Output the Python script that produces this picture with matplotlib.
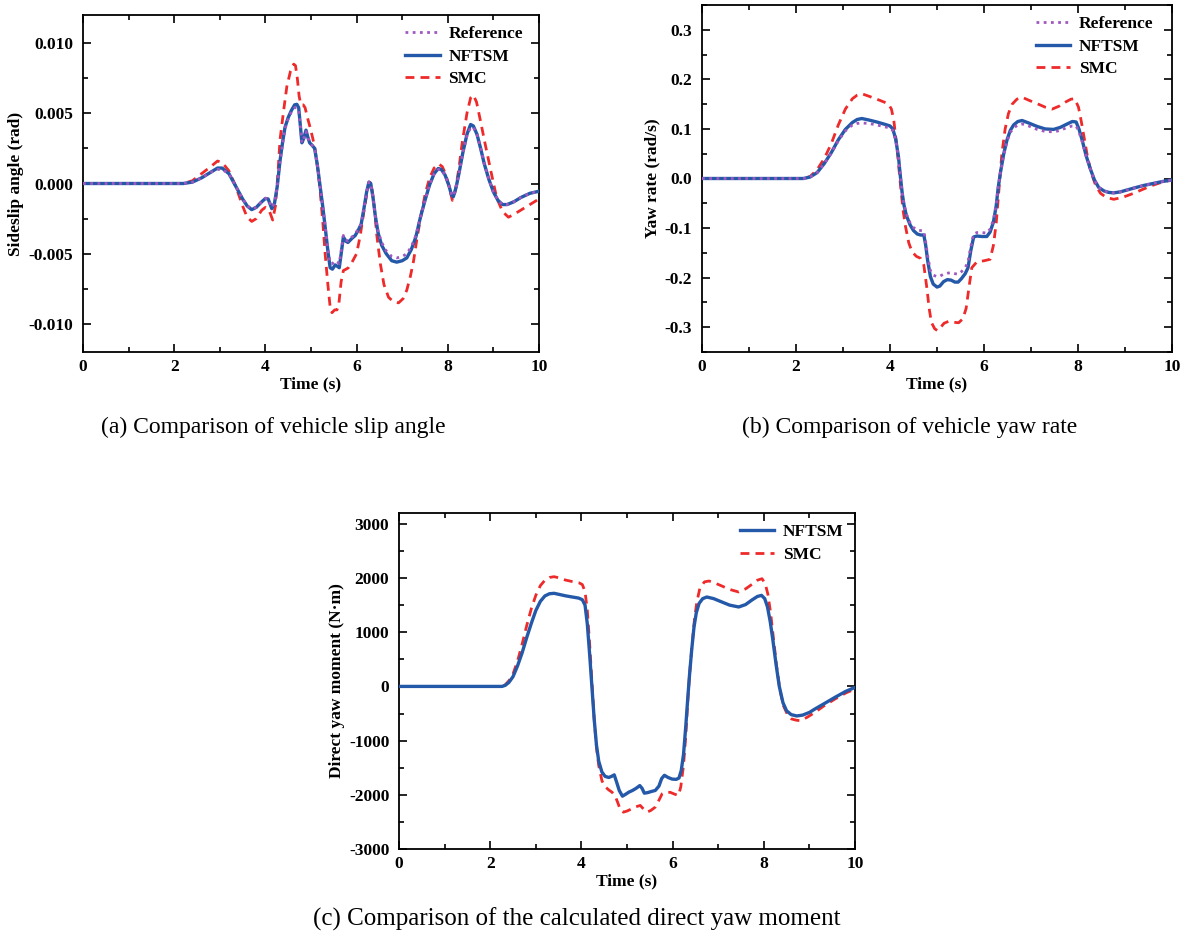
import matplotlib
matplotlib.use("Agg")
import matplotlib.pyplot as plt
from matplotlib.ticker import MultipleLocator, FormatStrFormatter

plt.rcParams['font.family'] = ['Liberation Serif', 'DejaVu Serif']
plt.rcParams['font.weight'] = 'bold'

# ---- (a) sideslip angle (rad) ----
t_a = [0, 1, 2, 2.2, 2.4, 2.6, 2.8, 2.95, 3.05, 3.2, 3.35, 3.5, 3.6, 3.7, 3.8, 3.92, 4.0, 4.06,
       4.14, 4.2, 4.26, 4.32, 4.38, 4.43, 4.5, 4.57, 4.64, 4.69, 4.73, 4.77, 4.8, 4.84, 4.89,
       4.93, 4.97, 5.03, 5.08, 5.14, 5.2, 5.26, 5.31, 5.37, 5.42, 5.47, 5.53, 5.58, 5.62, 5.67,
       5.71, 5.76, 5.81, 5.9, 5.97, 6.04, 6.1, 6.16, 6.22, 6.27, 6.31, 6.36, 6.41, 6.47, 6.55,
       6.65, 6.77, 6.88, 7.0, 7.1, 7.2, 7.3, 7.4, 7.5, 7.6, 7.7, 7.79, 7.86, 7.94, 8.02, 8.08,
       8.12, 8.18, 8.25, 8.33, 8.42, 8.5, 8.56, 8.64, 8.72, 8.8, 8.9, 9.0, 9.1, 9.2, 9.3, 9.45,
       9.6, 9.8, 10]
v_a_nftsm = [0, 0, 0, 0, 0.0001, 0.0004, 0.0008, 0.0011, 0.0011, 0.0007, -0.0002, -0.0011, -0.0016,
             -0.00186, -0.0017, -0.0013, -0.00107, -0.0011, -0.00179, -0.0014, -0.0002, 0.0016,
             0.0030, 0.0040, 0.0047, 0.0052, 0.0056, 0.00564, 0.0054, 0.0040, 0.0029, 0.0032,
             0.0038, 0.0033, 0.0029, 0.0027, 0.0025, 0.0013, -0.0002, -0.0017, -0.0031, -0.0048,
             -0.0060, -0.0061, -0.0058, -0.0059, -0.0060, -0.0048, -0.0038, -0.0041, -0.0042,
             -0.0039, -0.0037, -0.0033, -0.0029, -0.0018, -0.0006, 0.0001, 0.0000, -0.0010,
             -0.0023, -0.0035, -0.0044, -0.0050, -0.0055, -0.0056, -0.0055, -0.0053, -0.0047,
             -0.0038, -0.0024, -0.0012, -0.0001, 0.0007, 0.00107, 0.0010, 0.0006, -0.0001,
             -0.0008, -0.00095, -0.0003, 0.0008, 0.0022, 0.0035, 0.0042, 0.0041, 0.0035, 0.0025,
             0.0014, 0.0003, -0.0006, -0.0012, -0.0015, -0.0015, -0.0013, -0.0010, -0.0007,
             -0.00055]
v_a_ref = [0, 0, 0, 0, 0.0001, 0.0004, 0.0008, 0.0010, 0.0010, 0.0007, -0.0002, -0.0011, -0.0016,
           -0.0018, -0.0017, -0.0013, -0.00105, -0.0011, -0.0017, -0.0014, -0.0002, 0.0016,
           0.0029, 0.0039, 0.0046, 0.0051, 0.0054, 0.0054, 0.0052, 0.0040, 0.0029, 0.0032,
           0.0037, 0.0033, 0.0029, 0.0027, 0.0025, 0.0013, -0.0002, -0.0017, -0.0030, -0.0046,
           -0.0057, -0.0057, -0.0055, -0.0056, -0.0057, -0.0046, -0.0037, -0.0040, -0.0041,
           -0.0038, -0.0036, -0.0032, -0.0029, -0.0018, -0.0006, 0.0001, 0.0000, -0.0010,
           -0.0023, -0.0034, -0.0042, -0.0048, -0.0052, -0.0053, -0.0052, -0.0050, -0.0045,
           -0.0037, -0.0024, -0.0012, -0.0001, 0.0007, 0.0010, 0.0010, 0.0006, -0.0001,
           -0.0008, -0.0009, -0.0003, 0.0008, 0.0022, 0.0034, 0.0040, 0.0040, 0.0035, 0.0025,
           0.0014, 0.0003, -0.0006, -0.0012, -0.0015, -0.0015, -0.0013, -0.0010, -0.0007,
           -0.00055]
t_a_smc = [0, 1, 2, 2.2, 2.4, 2.6, 2.8, 2.95, 3.05, 3.2, 3.35, 3.5, 3.6, 3.7, 3.8, 3.92, 4.0,
           4.08, 4.16, 4.22, 4.27, 4.32, 4.4, 4.47, 4.55, 4.62, 4.66, 4.7, 4.74, 4.78, 4.83,
           4.87, 4.93, 4.98, 5.04, 5.09, 5.15, 5.2, 5.26, 5.31, 5.37, 5.42, 5.46, 5.52, 5.57,
           5.61, 5.66, 5.71, 5.77, 5.82, 5.9, 6.0, 6.08, 6.15, 6.22, 6.28, 6.32, 6.38, 6.44,
           6.52, 6.6, 6.7, 6.8, 6.92, 7.02, 7.1, 7.18, 7.25, 7.32, 7.4, 7.5, 7.6, 7.7, 7.8,
           7.88, 7.96, 8.04, 8.1, 8.16, 8.24, 8.32, 8.42, 8.5, 8.56, 8.63, 8.72, 8.82, 8.95,
           9.07, 9.2, 9.33, 9.45, 9.6, 9.8, 10]
v_a_smc = [0, 0, 0, 0, 0.0002, 0.0007, 0.0012, 0.0016, 0.0015, 0.0009, -0.0002, -0.0016, -0.0024,
           -0.0027, -0.0025, -0.0019, -0.0017, -0.0019, -0.0026, -0.0016, 0.0005, 0.0031,
           0.0052, 0.0069, 0.0080, 0.0085, 0.0084, 0.0075, 0.0062, 0.0056, 0.0056, 0.0054,
           0.0046, 0.0040, 0.0032, 0.0024, 0.0010, -0.0005, -0.0028, -0.0050, -0.0072, -0.0088,
           -0.0092, -0.0090, -0.0090, -0.0086, -0.0070, -0.0062, -0.0061, -0.0060, -0.0056,
           -0.0050, -0.0037, -0.0022, -0.0008, 0.0001, 0.0000, -0.0014, -0.0036, -0.0057,
           -0.0072, -0.0081, -0.0084, -0.0085, -0.0082, -0.0076, -0.0066, -0.0055, -0.0040,
           -0.0025, -0.0008, 0.0004, 0.0011, 0.0014, 0.0012, 0.0006, -0.0004, -0.0012, -0.0006,
           0.0010, 0.0030, 0.0050, 0.0061, 0.0063, 0.0058, 0.0044, 0.0028, 0.0008, -0.0010,
           -0.0020, -0.0024, -0.0022, -0.0019, -0.0015, -0.0011]

# ---- (b) yaw rate (rad/s) ----
t_b = [0, 1, 2, 2.16, 2.3, 2.45, 2.6, 2.75, 2.9, 3.05, 3.2, 3.3, 3.4, 3.55, 3.72, 3.9, 4.0, 4.06,
       4.12, 4.18, 4.22, 4.26, 4.3, 4.35, 4.43, 4.5, 4.58, 4.65, 4.72, 4.76, 4.8, 4.86, 4.92,
       5.0, 5.06, 5.14, 5.22, 5.3, 5.38, 5.45, 5.52, 5.6, 5.66, 5.72, 5.78, 5.85, 5.95, 6.06,
       6.13, 6.2, 6.26, 6.3, 6.35, 6.42, 6.49, 6.56, 6.63, 6.72, 6.81, 6.95, 7.13, 7.3, 7.48,
       7.62, 7.77, 7.88, 7.96, 8.02, 8.09, 8.17, 8.26, 8.35, 8.44, 8.55, 8.65, 8.76, 8.9, 9.05,
       9.2, 9.4, 9.6, 9.8, 10]
v_b_nftsm = [0, 0, 0, 0, 0.003, 0.012, 0.030, 0.052, 0.078, 0.099, 0.113, 0.119, 0.121, 0.118,
             0.114, 0.109, 0.106, 0.100, 0.080, 0.044, 0.005, -0.030, -0.055, -0.075, -0.094,
             -0.105, -0.112, -0.114, -0.114, -0.135, -0.165, -0.198, -0.213, -0.219, -0.217,
             -0.208, -0.204, -0.205, -0.209, -0.209, -0.202, -0.192, -0.180, -0.145, -0.118,
             -0.116, -0.117, -0.117, -0.108, -0.088, -0.055, -0.020, 0.012, 0.050, 0.078, 0.097,
             0.108, 0.115, 0.117, 0.112, 0.105, 0.100, 0.099, 0.103, 0.110, 0.115, 0.114, 0.100,
             0.077, 0.047, 0.020, -0.003, -0.018, -0.025, -0.028, -0.029, -0.027, -0.023,
             -0.019, -0.014, -0.010, -0.006, -0.003]
v_b_ref = [0, 0, 0, 0, 0.003, 0.012, 0.030, 0.051, 0.076, 0.096, 0.108, 0.111, 0.112, 0.111,
           0.108, 0.104, 0.102, 0.097, 0.078, 0.044, 0.005, -0.029, -0.053, -0.072, -0.090,
           -0.099, -0.104, -0.105, -0.106, -0.128, -0.155, -0.186, -0.195, -0.198, -0.197,
           -0.193, -0.191, -0.190, -0.192, -0.193, -0.188, -0.180, -0.168, -0.137, -0.112,
           -0.109, -0.109, -0.110, -0.102, -0.084, -0.053, -0.019, 0.012, 0.048, 0.075, 0.093,
           0.102, 0.108, 0.110, 0.106, 0.099, 0.095, 0.094, 0.097, 0.103, 0.106, 0.106, 0.094,
           0.074, 0.046, 0.020, -0.003, -0.018, -0.025, -0.028, -0.029, -0.027, -0.023,
           -0.019, -0.014, -0.010, -0.006, -0.003]
t_b_smc = [0, 1, 2, 2.16, 2.3, 2.45, 2.6, 2.75, 2.9, 3.05, 3.2, 3.3, 3.4, 3.55, 3.72, 3.88, 3.97,
           4.03, 4.08, 4.15, 4.19, 4.23, 4.28, 4.33, 4.4, 4.47, 4.56, 4.65, 4.72, 4.79, 4.83,
           4.88, 4.95, 5.01, 5.08, 5.15, 5.25, 5.35, 5.46, 5.55, 5.62, 5.68, 5.74, 5.85, 6.0,
           6.13, 6.2, 6.26, 6.32, 6.38, 6.45, 6.52, 6.6, 6.7, 6.81, 6.95, 7.13, 7.3, 7.45, 7.6,
           7.73, 7.85, 7.93, 8.01, 8.07, 8.12, 8.2, 8.28, 8.38, 8.48, 8.6, 8.76, 8.95, 9.18, 9.4,
           9.61, 9.8, 10]
v_b_smc = [0, 0, 0, 0, 0.004, 0.018, 0.040, 0.070, 0.108, 0.140, 0.161, 0.168, 0.171, 0.166,
           0.160, 0.154, 0.150, 0.140, 0.118, 0.060, 0.020, -0.020, -0.065, -0.097, -0.130,
           -0.148, -0.157, -0.161, -0.175, -0.225, -0.260, -0.290, -0.303, -0.307, -0.300,
           -0.292, -0.288, -0.290, -0.291, -0.283, -0.262, -0.220, -0.180, -0.168, -0.166,
           -0.163, -0.135, -0.090, -0.020, 0.050, 0.100, 0.131, 0.150, 0.160, 0.164, 0.158,
           0.151, 0.144, 0.140, 0.146, 0.154, 0.160, 0.161, 0.144, 0.115, 0.088, 0.045, 0.012,
           -0.015, -0.030, -0.038, -0.042, -0.038, -0.030, -0.021, -0.013, -0.007, -0.003]

# ---- (c) direct yaw moment (N·m) ----
t_c = [0, 1, 2, 2.26, 2.33, 2.41, 2.5, 2.6, 2.7, 2.8, 2.9, 3.0, 3.1, 3.2, 3.3, 3.4, 3.5, 3.65,
       3.8, 3.94, 4.02, 4.08, 4.13, 4.18, 4.23, 4.28, 4.33, 4.38, 4.45, 4.52, 4.6, 4.66, 4.72,
       4.77, 4.83, 4.9, 4.97, 5.04, 5.12, 5.2, 5.28, 5.33, 5.38, 5.45, 5.55, 5.62, 5.7, 5.76,
       5.82, 5.9, 5.99, 6.08, 6.14, 6.19, 6.24, 6.29, 6.33, 6.37, 6.42, 6.47, 6.52, 6.58, 6.66,
       6.75, 6.9, 7.08, 7.25, 7.45, 7.6, 7.74, 7.86, 7.95, 8.02, 8.08, 8.14, 8.2, 8.27, 8.34,
       8.42, 8.5, 8.6, 8.72, 8.85, 9.0, 9.12, 9.3, 9.56, 9.8, 10]
v_c_nftsm = [0, 0, 0, 0, 20, 74, 180, 380, 620, 900, 1160, 1400, 1570, 1670, 1710, 1718, 1700,
             1672, 1650, 1630, 1600, 1500, 1150, 600, 0, -600, -1080, -1380, -1580, -1660,
             -1680, -1660, -1632, -1760, -1920, -2025, -1990, -1951, -1920, -1880, -1830, -1880,
             -1970, -1960, -1935, -1920, -1840, -1700, -1640, -1680, -1710, -1715, -1690, -1550,
             -1250, -724, -250, 200, 687, 1100, 1360, 1530, 1620, 1650, 1620, 1558, 1500, 1466,
             1510, 1595, 1660, 1680, 1620, 1470, 1200, 850, 400, 0, -300, -450, -520, -545,
             -530, -480, -417, -330, -202, -90, -18]
t_c_smc = [0, 1, 2, 2.26, 2.33, 2.41, 2.5, 2.6, 2.7, 2.8, 2.9, 3.0, 3.1, 3.2, 3.3, 3.4, 3.5,
           3.65, 3.8, 3.94, 4.02, 4.08, 4.13, 4.18, 4.23, 4.28, 4.33, 4.38, 4.45, 4.52, 4.6,
           4.67, 4.74, 4.8, 4.86, 4.92, 5.0, 5.1, 5.2, 5.29, 5.36, 5.44, 5.52, 5.62, 5.7, 5.77,
           5.85, 5.95, 6.05, 6.13, 6.18, 6.24, 6.29, 6.33, 6.37, 6.42, 6.48, 6.53, 6.6, 6.7,
           6.8, 6.95, 7.08, 7.25, 7.45, 7.6, 7.74, 7.86, 7.96, 8.03, 8.09, 8.15, 8.21, 8.28,
           8.35, 8.43, 8.52, 8.61, 8.72, 8.8, 8.95, 9.12, 9.3, 9.56, 9.8, 10]
v_c_smc = [0, 0, 0, 0, 30, 104, 230, 470, 780, 1120, 1430, 1680, 1860, 1960, 2010, 2025, 2005,
           1963, 1935, 1914, 1880, 1750, 1400, 800, 100, -600, -1120, -1460, -1740, -1850, -1910,
           -1951, -2020, -2150, -2290, -2320, -2300, -2260, -2220, -2196, -2260, -2319, -2290,
           -2227, -2100, -1982, -1950, -1955, -1990, -2012, -1850, -1450, -900, -300, 200, 700,
           1239, 1550, 1820, 1930, 1945, 1900, 1853, 1790, 1742, 1800, 1883, 1960, 1988, 1900,
           1700, 1350, 900, 380, -50, -356, -520, -601, -625, -632, -570, -479, -370, -233,
           -120, -49]

BLUE = '#2458a8'
RED = '#ee2a2a'
PURPLE = '#a058c0'
W, H = 1185, 936

fig = plt.figure(figsize=(W / 100, H / 100), dpi=100)


def make_axes(l, r, t, b):
    return fig.add_axes([l / W, 1 - b / H, (r - l) / W, (b - t) / H])


def style(ax, ylim, major, minor, fmt, ylabel, leg_x):
    ax.set_xlim(0, 10)
    ax.set_ylim(*ylim)
    ax.xaxis.set_major_locator(MultipleLocator(2))
    ax.xaxis.set_minor_locator(MultipleLocator(1))
    ax.yaxis.set_major_locator(MultipleLocator(major))
    ax.yaxis.set_minor_locator(MultipleLocator(minor))
    ax.yaxis.set_major_formatter(FormatStrFormatter(fmt))
    ax.tick_params(which='both', direction='in', top=True, right=True, width=1.2,
                   labelsize=12.5)
    ax.tick_params(axis='x', pad=5)
    ax.tick_params(axis='y', pad=7)
    ax.tick_params(which='major', length=6)
    ax.tick_params(which='minor', length=3.5)
    for s in ax.spines.values():
        s.set_linewidth(1.3)
    ax.set_xlabel('Time (s)', fontsize=12.5, fontweight='bold', labelpad=1)
    ax.set_ylabel(ylabel, fontsize=12.5, fontweight='bold', labelpad=3)
    h, l = ax.get_legend_handles_labels()
    ax.legend(h[::-1], l[::-1], loc='upper right', bbox_to_anchor=(leg_x, 1.0),
              frameon=False, handlelength=2.0, labelspacing=0.35, borderaxespad=0.25,
              handletextpad=0.5,
              prop={'weight': 'bold', 'size': 12.5, 'family': 'Liberation Serif'})


dash = (0, (3.2, 2.2))
dots = (0, (1, 1.6))

# (a)
ax1 = make_axes(83, 539, 15, 352)
ax1.plot(t_a_smc, v_a_smc, color=RED, lw=2.0, ls=dash, label='SMC', zorder=2)
ax1.plot(t_a, v_a_nftsm, color=BLUE, lw=2.4, label='NFTSM', zorder=3)
ax1.plot(t_a, v_a_ref, color=PURPLE, lw=2.0, ls=dots, label='Reference', zorder=4)
style(ax1, (-0.012, 0.012), 0.005, 0.0025, '%.3f', 'Sideslip angle (rad)', 0.99)

# (b)
ax2 = make_axes(702, 1172, 5, 352)
ax2.plot(t_b_smc, v_b_smc, color=RED, lw=2.0, ls=dash, label='SMC', zorder=2)
ax2.plot(t_b, v_b_nftsm, color=BLUE, lw=2.4, label='NFTSM', zorder=3)
ax2.plot(t_b, v_b_ref, color=PURPLE, lw=2.0, ls=dots, label='Reference', zorder=4)
style(ax2, (-0.35, 0.35), 0.1, 0.05, '%.1f', 'Yaw rate (rad/s)', 0.985)

# (c)
ax3 = make_axes(399, 855, 513, 849)
ax3.plot(t_c_smc, v_c_smc, color=RED, lw=2.0, ls=dash, label='SMC', zorder=2)
ax3.plot(t_c, v_c_nftsm, color=BLUE, lw=2.4, label='NFTSM', zorder=3)
style(ax3, (-3000, 3200), 1000, 500, '%d', 'Direct yaw moment (N·m)', 1.0)

cap = dict(fontweight='normal', ha='center', va='center')
fig.text(273 / W, 1 - 427 / H, '(a) Comparison of vehicle slip angle', fontsize=17, **cap)
fig.text(910 / W, 1 - 427 / H, '(b) Comparison of vehicle yaw rate', fontsize=17, **cap)
fig.text(577 / W, 1 - 919 / H, '(c) Comparison of the calculated direct yaw moment',
         fontsize=18, **cap)

fig.savefig('out.png', dpi=100)
